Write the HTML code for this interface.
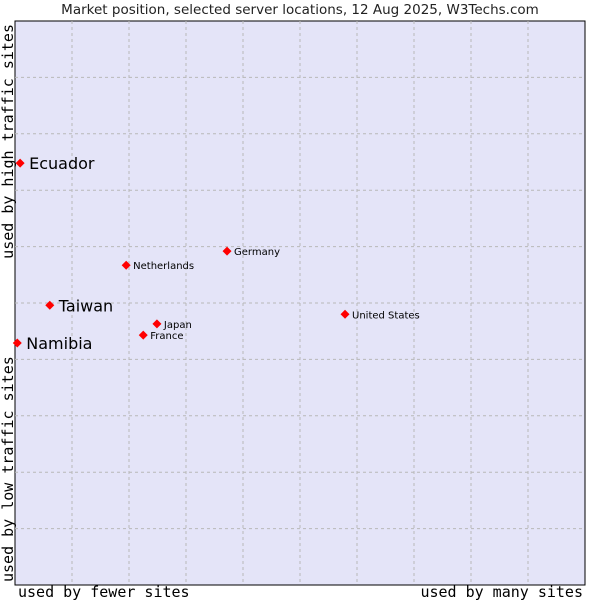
<!DOCTYPE html>
<html><head><meta charset="utf-8"><style>
html,body{margin:0;padding:0;background:#fff;width:600px;height:600px;overflow:hidden}
</style></head><body>
<svg id="chart" width="600" height="600" xmlns="http://www.w3.org/2000/svg">
<text x="300" y="14" text-anchor="middle" font-family="DejaVu Sans, sans-serif" font-size="13.5" fill="#222">Market position, selected server locations, 12 Aug 2025, W3Techs.com</text>
<rect x="15" y="21" width="570" height="564" fill="#e4e4f8" stroke="#000" stroke-width="1"/>
<g id="grid"></g>
<text x="18" y="597" font-family="DejaVu Sans Mono, monospace" font-size="15" fill="#000">used by fewer sites</text>
<text x="583" y="597" text-anchor="end" font-family="DejaVu Sans Mono, monospace" font-size="15" fill="#000">used by many sites</text>
<text transform="translate(13,24) rotate(-90)" text-anchor="end" font-family="DejaVu Sans Mono, monospace" font-size="15" fill="#000">used by high traffic sites</text>
<text transform="translate(13,582) rotate(-90)" font-family="DejaVu Sans Mono, monospace" font-size="15" fill="#000">used by low traffic sites</text>
<g id="points"></g>
</svg>
<script>
const names=["Ecuador","Netherlands","Germany","Taiwan","United States","Japan","France","Namibia"];
const xValues=[0.9,19.5,37.2,6.1,57.9,24.9,22.5,0.4];
const yValues=[74.8,56.7,59.2,49.6,48.0,46.3,44.3,42.9];
const highlighted=[true,false,false,true,false,false,false,true];
const NS="http://www.w3.org/2000/svg";
const L=15,T=21,W=570,H=564;
function xs(v){return L+v/100*W;}
function ys(v){return T+H-v/100*H;}
const grid=document.getElementById('grid');
for(let i=1;i<10;i++){
  const v=document.createElementNS(NS,'line');
  
  
  v.setAttribute('x1',xs(i*10));v.setAttribute('x2',xs(i*10));v.setAttribute('y1',T);v.setAttribute('y2',T+H);
  v.setAttribute('stroke','#b8b8b8');v.setAttribute('stroke-dasharray','3,3');
  grid.appendChild(v);
  const h=document.createElementNS(NS,'line');
  
  
  h.setAttribute('y1',ys(i*10));h.setAttribute('y2',ys(i*10));h.setAttribute('x1',L);h.setAttribute('x2',L+W);
  h.setAttribute('stroke','#b8b8b8');h.setAttribute('stroke-dasharray','3,3');
  grid.appendChild(h);
}
const pts=document.getElementById('points');
names.forEach((n,i)=>{
  const x=xs(xValues[i]),y=ys(yValues[i]);
  const g=document.createElementNS(NS,'g');
  
  
  const d=document.createElementNS(NS,'path');
  d.setAttribute('d',`M${x-4.5},${y} L${x},${y-4.5} L${x+4.5},${y} L${x},${y+4.5} Z`);
  d.setAttribute('fill','#ff0000');
  g.appendChild(d);
  const t=document.createElementNS(NS,'text');
  
  
  const big=highlighted[i];
  t.setAttribute('x',x+(big?9:7));
  t.setAttribute('y',y+(big?6:4));
  t.setAttribute('font-family','DejaVu Sans, sans-serif');
  t.setAttribute('font-size',big?16:10);
  t.setAttribute('fill','#000');
  t.textContent=n;
  g.appendChild(t);
  pts.appendChild(g);
});
</script>
</body></html>
